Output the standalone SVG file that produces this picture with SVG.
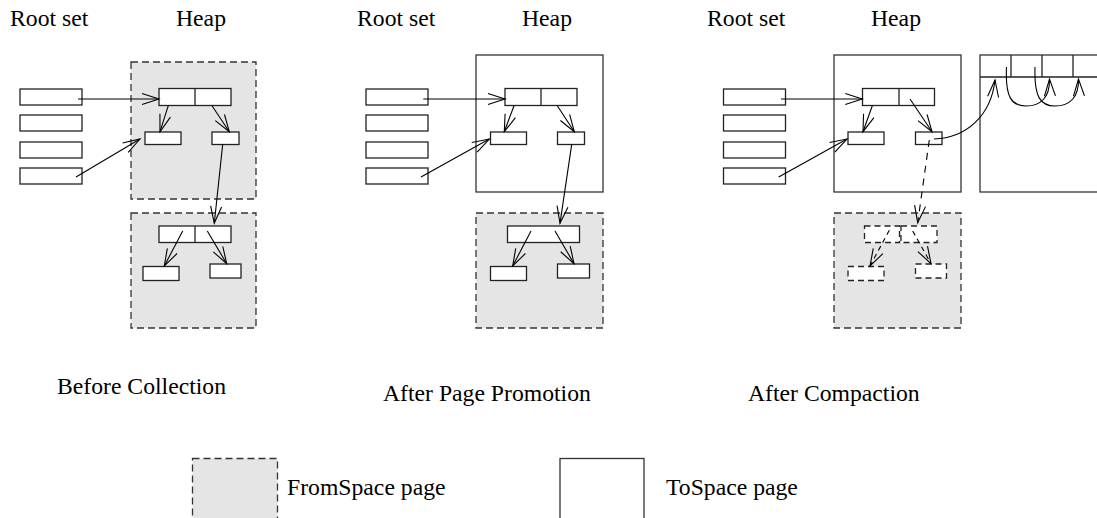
<svg xmlns="http://www.w3.org/2000/svg" width="1097" height="518" viewBox="0 0 1097 518">
<defs>
<style>
text{font-family:"Liberation Serif","Times New Roman",serif;font-size:23.7px;fill:#000}
.from{fill:#e5e5e5;stroke:#333;stroke-width:1.3;stroke-dasharray:7,4}
.to{fill:#fff;stroke:#333;stroke-width:1.3}
.obj{fill:#fff;stroke:#222;stroke-width:1.3}
.dobj{fill:#fff;stroke:#222;stroke-width:1.3;stroke-dasharray:6,4}
.ln{fill:none;stroke:#000;stroke-width:1.1;marker-end:url(#a)}
.dl{fill:none;stroke:#000;stroke-width:1.1;stroke-dasharray:7,6;marker-end:url(#a)}
.dl2{fill:none;stroke:#000;stroke-width:1.1;stroke-dasharray:5,4;marker-end:url(#a)}
.pl{fill:none;stroke:#222;stroke-width:1.3}
</style>
<marker id="a" viewBox="-20 -8 22 16" refX="0" refY="0" markerWidth="22" markerHeight="16" orient="auto" markerUnits="userSpaceOnUse">
<path d="M-17,-5.5 L0,0 L-17,5.5" fill="none" stroke="#000" stroke-width="1.1"/>
</marker>
</defs>

<!-- Headings -->
<g id="headings">
<text x="10" y="26">Root set</text>
<text x="176" y="26">Heap</text>
<text x="357" y="26">Root set</text>
<text x="522" y="26">Heap</text>
<text x="707" y="26">Root set</text>
<text x="871" y="26">Heap</text>
<text x="57" y="394">Before Collection</text>
<text x="383" y="401">After Page Promotion</text>
<text x="748" y="401">After Compaction</text>
</g>

<!-- Panel 1 -->
<g id="p1-heap-top"><rect class="from" x="131" y="62" width="125" height="137"/></g>
<g id="p1-heap-bottom"><rect class="from" x="131" y="213" width="125" height="115"/></g>
<g id="p1-roots">
<rect class="obj" x="20" y="89" width="62" height="16"/>
<rect class="obj" x="20" y="115" width="62" height="16"/>
<rect class="obj" x="20" y="142" width="62" height="16"/>
<rect class="obj" x="20" y="168" width="62" height="16"/>
</g>
<g id="p1-obj-a"><rect class="obj" x="159" y="88.5" width="72" height="17"/><line class="pl" x1="195" y1="88.5" x2="195" y2="105.5"/></g>
<g id="p1-obj-b"><rect class="obj" x="145" y="132" width="36" height="12.5"/></g>
<g id="p1-obj-c"><rect class="obj" x="212" y="132" width="27" height="12.5"/></g>
<g id="p1-obj-d"><rect class="obj" x="159" y="226" width="72" height="16.5"/><line class="pl" x1="195" y1="226" x2="195" y2="242.5"/></g>
<g id="p1-obj-e"><rect class="obj" x="143" y="266.5" width="36" height="14"/></g>
<g id="p1-obj-f"><rect class="obj" x="210" y="264" width="31" height="14"/></g>

<!-- Panel 2 -->
<g id="p2-heap-top"><rect class="to" x="476" y="55" width="127" height="137"/></g>
<g id="p2-heap-bottom"><rect class="from" x="476" y="213" width="127" height="115"/></g>
<g id="p2-roots">
<rect class="obj" x="366" y="89" width="62" height="16"/>
<rect class="obj" x="366" y="115" width="62" height="16"/>
<rect class="obj" x="366" y="142" width="62" height="16"/>
<rect class="obj" x="366" y="168" width="62" height="16"/>
</g>
<g id="p2-obj-a"><rect class="obj" x="505" y="88.5" width="72" height="17"/><line class="pl" x1="541" y1="88.5" x2="541" y2="105.5"/></g>
<g id="p2-obj-b"><rect class="obj" x="490.5" y="132" width="36" height="12.5"/></g>
<g id="p2-obj-c"><rect class="obj" x="557.5" y="132" width="27" height="12.5"/></g>
<g id="p2-obj-d"><rect class="obj" x="507.5" y="226" width="72" height="16.5"/></g>
<g id="p2-obj-e"><rect class="obj" x="490.5" y="266.5" width="36" height="14"/></g>
<g id="p2-obj-f"><rect class="obj" x="557.5" y="264" width="32" height="14"/></g>

<!-- Panel 3 -->
<g id="p3-heap-top"><rect class="to" x="834" y="55" width="127" height="137"/></g>
<g id="p3-heap-bottom"><rect class="from" x="834" y="213" width="127" height="115"/></g>
<g id="p3-tospace">
<rect class="to" x="980" y="55" width="130" height="137"/>
<line class="pl" x1="980" y1="77" x2="1097" y2="77"/>
<line class="pl" x1="1011" y1="55" x2="1011" y2="77"/>
<line class="pl" x1="1042" y1="55" x2="1042" y2="77"/>
<line class="pl" x1="1073" y1="55" x2="1073" y2="77"/>
</g>
<g id="p3-roots">
<rect class="obj" x="723.5" y="89" width="62" height="16"/>
<rect class="obj" x="723.5" y="115" width="62" height="16"/>
<rect class="obj" x="723.5" y="142" width="62" height="16"/>
<rect class="obj" x="723.5" y="168" width="62" height="16"/>
</g>
<g id="p3-obj-a"><rect class="obj" x="862.5" y="88.5" width="72" height="17"/><line class="pl" x1="899" y1="88.5" x2="899" y2="105.5"/></g>
<g id="p3-obj-b"><rect class="obj" x="848" y="132" width="36" height="12.5"/></g>
<g id="p3-obj-c"><rect class="obj" x="915.5" y="132" width="26.5" height="12.5"/></g>
<g id="p3-obj-d1"><rect class="dobj" x="864.5" y="226" width="35" height="16.5"/></g>
<g id="p3-obj-d2"><rect class="dobj" x="901" y="226" width="36" height="16.5"/></g>
<g id="p3-obj-e"><rect class="dobj" x="848" y="266.5" width="36" height="14"/></g>
<g id="p3-obj-f"><rect class="dobj" x="915.5" y="264" width="31" height="14"/></g>

<!-- Legend -->
<g id="legend-from"><rect class="from" x="192.5" y="458.5" width="85" height="70"/><text x="287" y="495">FromSpace page</text></g>
<g id="legend-to"><rect class="to" x="560" y="458.5" width="84" height="70"/><text x="666" y="495">ToSpace page</text></g>

<!-- Connectors -->
<g id="connectors">
<line class="ln" x1="78" y1="99" x2="159" y2="99"/>
<line class="ln" x1="76" y1="177" x2="140" y2="139"/>
<line class="ln" x1="168.3" y1="105.7" x2="160" y2="131.7"/>
<line class="ln" x1="212" y1="105.7" x2="229.3" y2="131.7"/>
<line class="ln" x1="222.7" y1="144.3" x2="214.3" y2="223.3"/>
<line class="ln" x1="182.7" y1="231" x2="164.3" y2="266"/>
<line class="ln" x1="207.3" y1="231" x2="226.7" y2="263.7"/>
<line class="ln" x1="423.3" y1="99" x2="505" y2="99"/>
<line class="ln" x1="421" y1="177" x2="489.3" y2="139"/>
<line class="ln" x1="514" y1="105.7" x2="504.3" y2="131.7"/>
<line class="ln" x1="557.3" y1="105.7" x2="574.3" y2="131.7"/>
<line class="ln" x1="571.7" y1="144.3" x2="560" y2="223.3"/>
<line class="ln" x1="531" y1="231" x2="512.7" y2="266"/>
<line class="ln" x1="555" y1="231" x2="574" y2="263.7"/>
<line class="ln" x1="781" y1="99" x2="862.3" y2="99"/>
<line class="ln" x1="778.7" y1="177" x2="847" y2="139"/>
<line class="ln" x1="872.3" y1="105.7" x2="863" y2="131.7"/>
<line class="ln" x1="910" y1="99" x2="932" y2="131.7"/>
<line class="dl" x1="929.3" y1="140" x2="917.7" y2="222.7"/>
<line class="dl2" x1="889.3" y1="230.3" x2="870" y2="266"/>
<line class="dl2" x1="912.7" y1="231" x2="931" y2="263.7"/>
<path class="ln" d="M934,139 C966,138 991,116 995,80"/>
<path class="ln" d="M1006.5,67 C1005,98 1012,106 1026,106 C1041,106 1050,97 1049.5,79"/>
<path class="ln" d="M1035,67 C1034,98 1041,106 1055,106 C1070,106 1079,97 1078.5,79"/>
</g>
</svg>
